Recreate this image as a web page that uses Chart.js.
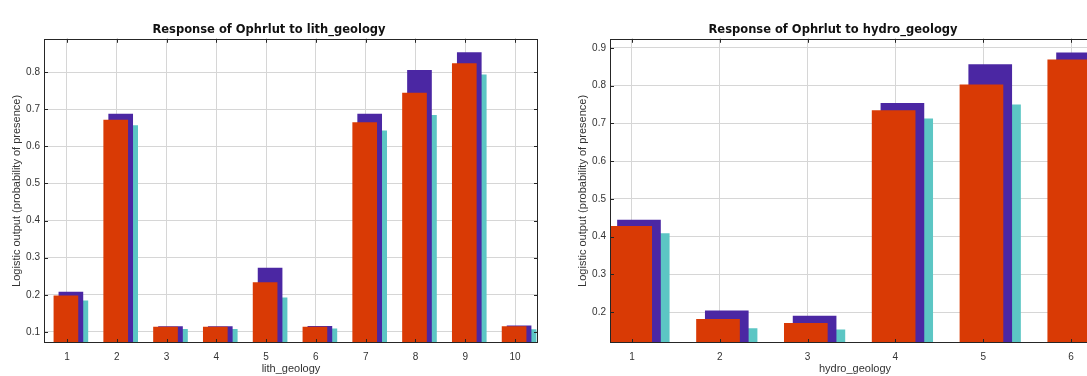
<!DOCTYPE html>
<html>
<head>
<meta charset="utf-8">
<script src="https://cdn.jsdelivr.net/npm/chart.js@4"></script>
<style>
    body { margin: 0; background: #fff; overflow: hidden; width: 1087px; height: 376px; position: relative; }
    canvas { position: absolute; top: 0; }
    #lithChart { left: 0; }
    #hydroChart { left: 566px; }
</style>
</head>
<body>
<canvas id="lithChart" width="582" height="376"></canvas>
<canvas id="hydroChart" width="578" height="376"></canvas>
<script>
// lith_geology response (mean, mean + sd, mean - sd)
const lithCats = [1, 2, 3, 4, 5, 6, 7, 8, 9, 10];
const lithMean = [0.197, 0.671, 0.113, 0.113, 0.233, 0.113, 0.664, 0.744, 0.823, 0.114];
const lithPlusSd = [0.207, 0.687, 0.114, 0.114, 0.272, 0.115, 0.687, 0.805, 0.853, 0.116];
const lithMinusSd = [0.184, 0.656, 0.107, 0.107, 0.192, 0.108, 0.642, 0.684, 0.793, 0.106];
const lithYTicks = [0.1, 0.2, 0.3, 0.4, 0.5, 0.6, 0.7, 0.8];

// hydro_geology response
const hydroCats = [1, 2, 3, 4, 5, 6];
const hydroMean = [0.427, 0.181, 0.170, 0.734, 0.802, 0.868];
const hydroPlusSd = [0.444, 0.203, 0.189, 0.753, 0.856, 0.887];
const hydroMinusSd = [0.408, 0.156, 0.153, 0.712, 0.749, 0.850];
const hydroYTicks = [0.2, 0.3, 0.4, 0.5, 0.6, 0.7, 0.8, 0.9];

const seriesColors = ['#d93a05', '#4b27a3', '#5cc6c4'];
const seriesShift = [-0.02, 0.08, 0.18];

Chart.defaults.font.family = '"Liberation Sans", Arial, sans-serif';
Chart.defaults.color = '#333';

// matlab style box round the plot with inward tick marks
const boxFrame = {
    id: 'boxFrame',
    afterDatasetsDraw(chart) {
        const ctx = chart.ctx;
        const a = chart.chartArea;
        const xs = chart.scales.x;
        const ys = chart.scales.y;
        ctx.save();
        ctx.strokeStyle = '#262626';
        ctx.lineWidth = 1;
        ctx.strokeRect(Math.round(a.left) + 0.5, Math.round(a.top) + 0.5, Math.round(a.width) - 1, Math.round(a.height) - 1);
        ctx.beginPath();
        xs.ticks.forEach(t => {
            const x = Math.round(xs.getPixelForValue(t.value)) + 0.5;
            ctx.moveTo(x, a.top);
            ctx.lineTo(x, a.top + 4);
            ctx.moveTo(x, a.bottom);
            ctx.lineTo(x, a.bottom - 4);
        });
        ys.ticks.forEach(t => {
            const y = Math.round(ys.getPixelForValue(t.value)) + 0.5;
            ctx.moveTo(a.left, y);
            ctx.lineTo(a.left + 4, y);
            ctx.moveTo(a.right, y);
            ctx.lineTo(a.right - 4, y);
        });
        ctx.stroke();
        ctx.restore();
    }
};

function toPoints(cats, values, shift) {
    return cats.map((c, i) => ({ x: c + shift, y: values[i] }));
}

function makeResponseChart(canvasId, setup) {
    const series = [setup.mean, setup.plus, setup.minus];
    const datasets = series.map((values, i) => ({
        data: toPoints(setup.cats, values, seriesShift[i]),
        backgroundColor: seriesColors[i],
        borderWidth: 0,
        barThickness: setup.barPx,
        grouped: false
    }));

    return new Chart(document.getElementById(canvasId), {
        type: 'bar',
        data: { datasets: datasets },
        plugins: [boxFrame],
        options: {
            responsive: false,
            animation: false,
            layout: { padding: { left: 0, right: 44, top: 0, bottom: 0 } },
            plugins: {
                legend: { display: false },
                tooltip: { enabled: false },
                title: {
                    display: true,
                    text: setup.title,
                    color: '#111',
                    font: { family: '"DejaVu Sans", sans-serif', size: 11.5, weight: 'bold' },
                    padding: { top: 23, bottom: 2 }
                }
            },
            scales: {
                x: {
                    type: 'linear',
                    offset: false,
                    min: setup.xMin,
                    max: setup.xMax,
                    afterBuildTicks: scale => { scale.ticks = setup.cats.map(v => ({ value: v })); },
                    afterFit: scale => { scale.height = 33; },
                    grid: { color: '#d6d6d6', drawTicks: false, offset: false },
                    border: { display: false },
                    ticks: { font: { size: 10 }, padding: 8, callback: v => String(v) },
                    title: { display: true, text: setup.axisName, font: { size: 11 }, padding: { top: 0, bottom: 0 } }
                },
                y: {
                    min: setup.yMin,
                    max: setup.yMax,
                    afterBuildTicks: scale => { scale.ticks = setup.yTicks.map(v => ({ value: v })); },
                    afterFit: scale => { scale.width = 44; },
                    grid: { color: '#d6d6d6', drawTicks: false },
                    border: { display: false },
                    ticks: { font: { size: 10 }, padding: 4, callback: v => v.toFixed(1) },
                    title: { display: true, text: 'Logistic output (probability of presence)', font: { size: 11 }, padding: { top: 10.5, bottom: 0 } }
                }
            }
        }
    });
}

makeResponseChart('lithChart', {
    title: 'Response of Ophrlut to lith_geology',
    axisName: 'lith_geology',
    cats: lithCats,
    mean: lithMean,
    plus: lithPlusSd,
    minus: lithMinusSd,
    yTicks: lithYTicks,
    xMin: 0.54, xMax: 10.46,
    yMin: 0.07, yMax: 0.89,
    barPx: 24
});

makeResponseChart('hydroChart', {
    title: 'Response of Ophrlut to hydro_geology',
    axisName: 'hydro_geology',
    cats: hydroCats,
    mean: hydroMean,
    plus: hydroPlusSd,
    minus: hydroMinusSd,
    yTicks: hydroYTicks,
    xMin: 0.75, xMax: 6.33,
    yMin: 0.118, yMax: 0.924,
    barPx: 43
});
</script>
</body>
</html>
